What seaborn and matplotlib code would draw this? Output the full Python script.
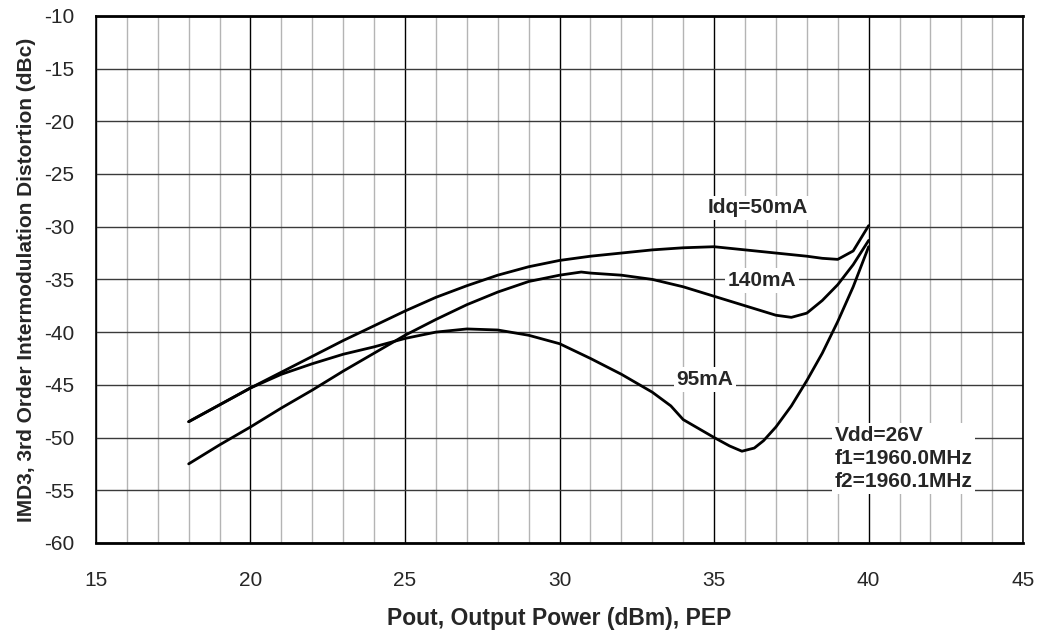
import matplotlib
matplotlib.use("Agg")
import matplotlib.pyplot as plt
import seaborn as sns
import pandas as pd
import numpy as np

# IMD3 vs output power
pout_50 = [18, 19, 20, 21, 22, 23, 24, 25, 26, 27, 28, 29, 30, 31, 32, 33, 34, 35,
           36, 37, 38, 38.5, 39, 39.5, 40]
imd_50 = [-48.5, -46.9, -45.3, -43.8, -42.3, -40.8, -39.4, -38.0, -36.7, -35.6, -34.6,
          -33.8, -33.2, -32.8, -32.5, -32.2, -32.0, -31.9, -32.2, -32.5, -32.8, -33.0,
          -33.1, -32.3, -29.9]

pout_95 = [18, 19, 20, 21, 22, 23, 24, 25, 26, 27, 28, 29, 30, 31, 32, 33, 33.6, 34,
           35, 35.5, 35.9, 36.3, 36.6, 37, 37.5, 38, 38.5, 39, 39.5, 40]
imd_95 = [-48.5, -46.9, -45.3, -44.0, -43.0, -42.1, -41.4, -40.6, -40.0, -39.7, -39.8,
          -40.3, -41.1, -42.5, -44.0, -45.7, -47.0, -48.3, -50.0, -50.8, -51.3, -51.0,
          -50.3, -49.0, -47.0, -44.6, -42.0, -39.0, -35.7, -31.9]

pout_140 = [18, 19, 20, 21, 22, 23, 24, 25, 26, 27, 28, 29, 30, 30.7, 31, 32, 33, 34,
            35, 36, 37, 37.5, 38, 38.5, 39, 39.5, 40]
imd_140 = [-52.5, -50.7, -49.0, -47.2, -45.5, -43.7, -42.0, -40.3, -38.8, -37.4, -36.2,
           -35.2, -34.6, -34.3, -34.4, -34.6, -35.0, -35.7, -36.6, -37.5, -38.4, -38.6,
           -38.2, -37.0, -35.5, -33.6, -31.3]

x_ticks = [15, 20, 25, 30, 35, 40, 45]
y_ticks = [-10, -15, -20, -25, -30, -35, -40, -45, -50, -55, -60]

sns.set_theme(style="white")
plt.rcParams['font.family'] = ['Liberation Sans', 'DejaVu Sans']
plt.rcParams['axes.unicode_minus'] = False

fig = plt.figure(figsize=(10.43, 6.35), dpi=100)
ax = fig.add_axes([0.092, 0.145, 0.889, 0.830])

# grid: light minor verticals, black majors, dark horizontals
for xv in range(15, 46):
    if xv % 5:
        ax.axvline(xv, color='#b4b4b4', lw=1.0, zorder=1)
    else:
        ax.axvline(xv, color='black', lw=1.0, zorder=1)
for yv in y_ticks:
    ax.axhline(yv, color='#3a3a3a', lw=1.0, zorder=1)

for xs, ys in [(pout_50, imd_50), (pout_95, imd_95), (pout_140, imd_140)]:
    sns.lineplot(x=xs, y=ys, ax=ax, color='black', lw=2.0, zorder=3)

box = dict(facecolor='white', edgecolor='none', pad=2)
ax.text(36.4, -28.2, 'Idq=50mA', ha='center', va='center', fontsize=15,
        fontweight='bold', bbox=box, zorder=4)
ax.text(36.55, -35.1, '140mA', ha='center', va='center', fontsize=15,
        fontweight='bold', bbox=box, zorder=4)
ax.text(34.7, -44.5, '95mA', ha='center', va='center', fontsize=15,
        fontweight='bold', bbox=box, zorder=4)
ax.text(38.9, -52.0, 'Vdd=26V\nf1=1960.0MHz\nf2=1960.1MHz', ha='left', va='center',
        fontsize=15, fontweight='bold', linespacing=1.28, bbox=box, zorder=4)

ax.set_xlim(15, 45)
ax.set_ylim(-60, -10)
ax.set_xticks(x_ticks)
ax.set_yticks(y_ticks)
ax.tick_params(axis='both', labelsize=15, length=6.5, width=1, color='black',
               direction='out')
ax.tick_params(axis='x', pad=14)
ax.tick_params(axis='y', pad=9)
for side in ['left', 'right']:
    ax.spines[side].set_color('black')
    ax.spines[side].set_linewidth(1.2)
for side in ['top', 'bottom']:
    ax.spines[side].set_color('black')
    ax.spines[side].set_linewidth(2.0)

ax.set_xlabel('Pout, Output Power (dBm), PEP', fontsize=16.5, fontweight='bold',
              labelpad=12)
ax.set_ylabel('IMD3, 3rd Order Intermodulation Distortion (dBc)', fontsize=15,
              fontweight='bold', labelpad=6)

fig.savefig('out.png', dpi=100)
